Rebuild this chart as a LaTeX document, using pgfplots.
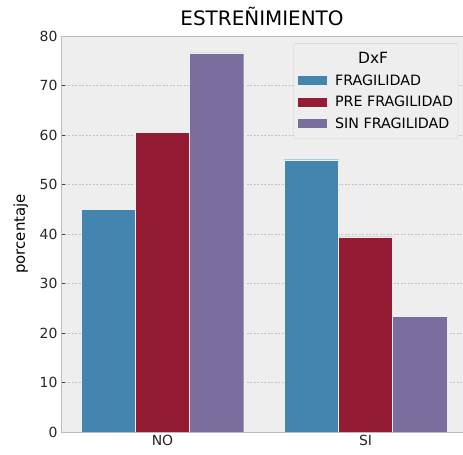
\documentclass[border=0pt]{standalone}
\usepackage{pgfplots}
\pgfplotsset{compat=1.18}
\usepackage{fontspec}
\setmainfont{DejaVu Sans}

\definecolor{cfrag}{HTML}{4385AE}
\definecolor{cpre}{HTML}{931B34}
\definecolor{csin}{HTML}{7B6D9D}
\definecolor{bgpanel}{HTML}{EEEEEE}
\definecolor{frameg}{HTML}{BCBCBC}
\definecolor{gridg}{HTML}{C4C4C4}

\begin{document}
\begin{tikzpicture}[x=1bp,y=1bp]
\path[use as bounding box] (0,0) rectangle (463,455);
\begin{axis}[
  at={(61bp,23bp)}, anchor=south west,
  scale only axis, width=402bp, height=396bp,
  xmin=-0.5, xmax=1.48, ymin=0, ymax=80,
  axis x line=box, axis y line=left,
  ybar=0pt, bar width=0.2667,
  axis background/.style={fill=bgpanel},
  axis line style={draw=frameg, line width=0.8bp, -},
  xtick={0,1}, xticklabels={NO,SI},
  ytick={0,10,...,80},
  ymajorgrids,
  grid style={gridg, line width=0.5bp, dash pattern=on 2bp off 1.5bp},
  major tick length=4bp,
  tick align=inside,
  tick style={black!75, line width=0.8bp},
  xtick pos=bottom, ytick pos=left,
  tick label style={font=\fontsize{14}{16}\selectfont, text=black!85},
  /pgf/number format/assume math mode=true,
  title={ESTREÑIMIENTO},
  title style={font=\fontsize{20}{24}\selectfont, yshift=1bp},
  ylabel={porcentaje},
  ylabel style={font=\fontsize{15}{18}\selectfont, yshift=5bp},
  legend style={at={(0.988,0.982)}, anchor=north east,
    fill=bgpanel, draw=black!18, rounded corners=2bp,
    font=\fontsize{14.3}{16}\selectfont, row sep=5.5bp, column sep=6bp,
    inner xsep=3bp, inner ysep=7bp},
  legend cell align=left,
  legend image code/.code={\fill[#1, sharp corners] (0bp,-5bp) rectangle (30bp,5bp);},
]
\addlegendimage{empty legend}
\addlegendentry{\hspace*{23bp}\fontsize{15.5}{17}\selectfont DxF}
\addplot[fill=cfrag, draw=bgpanel, line width=0.4bp] coordinates {(0,45.0) (1,55.0)};
\addlegendentry{FRAGILIDAD}
\addplot[fill=cpre, draw=bgpanel, line width=0.4bp] coordinates {(0,60.6) (1,39.4)};
\addlegendentry{PRE FRAGILIDAD}
\addplot[fill=csin, draw=bgpanel, line width=0.4bp] coordinates {(0,76.6) (1,23.4)};
\addlegendentry{SIN FRAGILIDAD}
\end{axis}
\end{tikzpicture}
\end{document}
